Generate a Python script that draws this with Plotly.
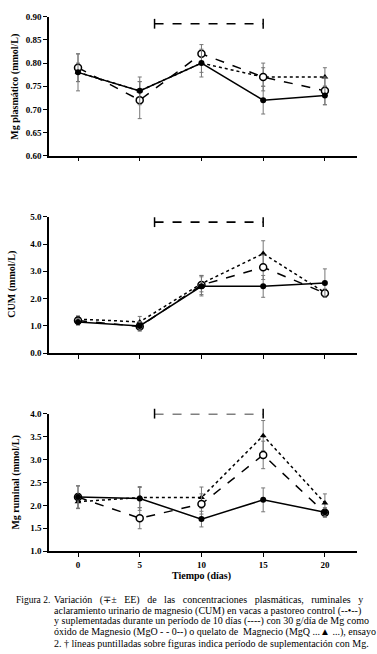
import plotly.graph_objects as go

W, H = 377, 654

days = [0, 5, 10, 15, 20]
x_ticks = [0, 5, 10, 15, 20]

# Panel 1: Mg plasmatico (mmol/L)
plasma_ctrl = [0.78, 0.74, 0.80, 0.72, 0.73]
plasma_ctrl_err = [0.04, 0.03, 0.03, 0.03, 0.02]
plasma_mgo = [0.79, 0.72, 0.82, 0.77, 0.74]
plasma_mgo_err = [0.03, 0.04, 0.02, 0.03, 0.03]
plasma_mgq = [0.78, 0.74, 0.80, 0.77, 0.77]
plasma_mgq_err = [0.02, 0.02, 0.02, 0.02, 0.02]

# Panel 2: CUM (mmol/L)
cum_ctrl = [1.15, 1.00, 2.45, 2.45, 2.57]
cum_ctrl_err = [0.12, 0.15, 0.35, 0.40, 0.52]
cum_mgo = [1.20, 0.98, 2.50, 3.15, 2.20]
cum_mgo_err = [0.15, 0.17, 0.35, 0.45, 0.15]
cum_mgq = [1.25, 1.15, 2.55, 3.65, 2.22]
cum_mgq_err = [0.12, 0.20, 0.30, 0.47, 0.12]

# Panel 3: Mg ruminal (mmol/L)
rum_ctrl = [2.18, 2.15, 1.70, 2.12, 1.85]
rum_ctrl_err = [0.25, 0.26, 0.17, 0.26, 0.10]
rum_mgo = [2.18, 1.72, 2.03, 3.10, 1.84]
rum_mgo_err = [0.24, 0.23, 0.22, 0.30, 0.10]
rum_mgq = [2.08, 2.17, 2.17, 3.52, 2.05]
rum_mgq_err = [0.15, 0.22, 0.23, 0.33, 0.20]

# Supplementation period bars (x start, x end, y level per panel)
supp_x = [6.2, 15]
supp_y = [0.885, 4.8, 4.0]

y_titles = ["Mg plasmático (mmol/L)", "CUM (mmol/L)", "Mg ruminal (mmol/L)"]
y_ranges = [[0.60, 0.90], [0.0, 5.0], [1.0, 4.0]]
y_dticks = [0.05, 1.0, 0.5]
y_formats = [".2f", ".1f", ".1f"]

caption_lines = [
    "Variación   (∓±   EE)   de   las   concentraciones   plasmáticas,   ruminales   y",
    "aclaramiento urinario de magnesio (CUM) en vacas a pastoreo control (--•--)",
    "y suplementadas durante un período de 10 días (----) con 30 g/día de Mg como",
    "óxido de Magnesio (MgO - - 0--) o quelato de  Magnecio (MgQ ...▲ ...), ensayo",
    "2. † líneas puntilladas sobre figuras indica período de suplementación con Mg.",
]

# pixel geometry
x_left, x_right = 49, 357
panel_px = [(12, 153), (215, 353.7), (415, 554.7)]
x_range = [-2.35, 22.6]

def py(p):
    return 1 - p / H

SERIF = "Liberation Serif"

fig = go.Figure()

panels = [
    (plasma_ctrl, plasma_ctrl_err, plasma_mgo, plasma_mgo_err, plasma_mgq, plasma_mgq_err),
    (cum_ctrl, cum_ctrl_err, cum_mgo, cum_mgo_err, cum_mgq, cum_mgq_err),
    (rum_ctrl, rum_ctrl_err, rum_mgo, rum_mgo_err, rum_mgq, rum_mgq_err),
]

for i, (c, ce, o, oe, q, qe) in enumerate(panels):
    xa = "x" if i == 0 else f"x{i+1}"
    ya = "y" if i == 0 else f"y{i+1}"
    err_style = dict(type="data", thickness=1, width=2, color="#777777")
    # MgQ dotted triangle
    fig.add_trace(go.Scatter(
        x=days, y=q, xaxis=xa, yaxis=ya, mode="lines+markers",
        line=dict(color="black", width=1.5, dash="dot"),
        marker=dict(symbol="triangle-up", size=6, color="black"),
        error_y=dict(array=qe, **err_style), cliponaxis=False, showlegend=False))
    # MgO dashed open circle
    fig.add_trace(go.Scatter(
        x=days, y=o, xaxis=xa, yaxis=ya, mode="lines+markers",
        line=dict(color="black", width=1.5, dash="dash"),
        marker=dict(symbol="circle", size=7, color="white", line=dict(color="black", width=1.5)),
        error_y=dict(array=oe, **err_style), cliponaxis=False, showlegend=False))
    # Control solid filled circle
    fig.add_trace(go.Scatter(
        x=days, y=c, xaxis=xa, yaxis=ya, mode="lines+markers",
        line=dict(color="black", width=1.5),
        marker=dict(symbol="circle", size=6, color="black"),
        error_y=dict(array=ce, **err_style), cliponaxis=False, showlegend=False))
    # supplementation bar
    fig.add_trace(go.Scatter(
        x=supp_x, y=[supp_y[i], supp_y[i]], xaxis=xa, yaxis=ya, mode="lines+markers",
        line=dict(color="black", width=1.6, dash="dash"),
        marker=dict(symbol="line-ns", size=7, line=dict(color="black", width=1.5)),
        cliponaxis=False, showlegend=False))

    top, bot = panel_px[i]
    xkey = "xaxis" if i == 0 else f"xaxis{i+1}"
    ykey = "yaxis" if i == 0 else f"yaxis{i+1}"
    fig.layout[xkey] = dict(
        domain=[x_left / W, x_right / W], range=x_range, anchor=ya,
        tickvals=x_ticks, ticktext=[str(t) for t in x_ticks] if i == 2 else [""] * 5,
        ticks="outside", ticklen=4, tickwidth=1.2, tickcolor="black",
        showline=True, linecolor="black", linewidth=1.5, showgrid=False, zeroline=False,
        tickfont=dict(family=SERIF, size=9, color="black", weight="bold"),
    )
    fig.layout[ykey] = dict(
        domain=[py(bot), py(top)], range=y_ranges[i], anchor=xa,
        dtick=y_dticks[i], tick0=y_ranges[i][0], tickformat=y_formats[i],
        ticks="outside", ticklen=4, tickwidth=1.2, tickcolor="black",
        showline=True, linecolor="black", linewidth=1.5, showgrid=False, zeroline=False,
        tickfont=dict(family=SERIF, size=9, color="black", weight="bold"),
    )

annotations = []
title_pos = [(15, 83), (12, 284), (16, 485)]
for i, t in enumerate(y_titles):
    annotations.append(dict(
        text=f"<b>{t}</b>", x=title_pos[i][0] / W, y=py(title_pos[i][1]),
        xref="paper", yref="paper", textangle=-90, showarrow=False,
        font=dict(family=SERIF, size=10, color="black"), xanchor="center", yanchor="middle"))

annotations.append(dict(
    text="<b>Tiempo (días)</b>", x=201 / W, y=py(580), xref="paper", yref="paper",
    showarrow=False, font=dict(family=SERIF, size=10, color="black"),
    xanchor="center", yanchor="middle"))

cap_y0 = 604
annotations.append(dict(
    text="Figura 2.", x=14 / W, y=py(cap_y0), xref="paper", yref="paper",
    showarrow=False, font=dict(family=SERIF, size=9.5, color="black"),
    xanchor="left", yanchor="middle"))
for k, line in enumerate(caption_lines):
    annotations.append(dict(
        text=line, x=52 / W, y=py(cap_y0 + 11 * k), xref="paper", yref="paper",
        showarrow=False, font=dict(family=SERIF, size=10, color="black"),
        xanchor="left", yanchor="middle"))

fig.update_layout(
    width=W, height=H, margin=dict(l=0, r=0, t=0, b=0),
    paper_bgcolor="white", plot_bgcolor="white",
    annotations=annotations, showlegend=False,
)

fig.write_html("out.html", config={"displayModeBar": False},
               post_script="document.body.style.margin='0';")
